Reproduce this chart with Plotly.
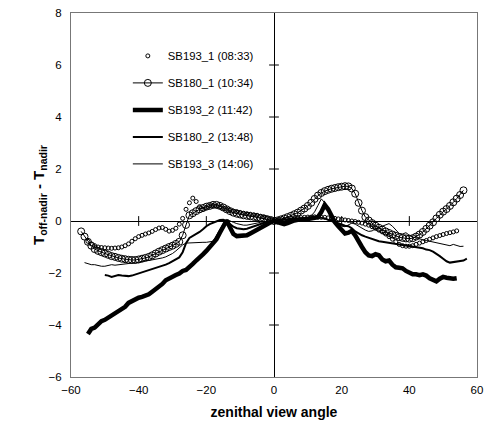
import plotly.graph_objects as go

ANGLES = [-57, -56, -55, -54, -53, -52, -51, -50, -49, -48, -47, -46, -45, -44, -43, -42, -41, -40,
          -39, -38, -37, -36, -35, -34, -33, -32, -31, -30, -29, -28, -27, -26, -25, -24, -23, -22,
          -21, -20, -19, -18, -17, -16, -15, -14, -13, -12, -11, -10, -9, -8, -7, -6, -5, -4, -3,
          -2, -1, 0, 1, 2, 3, 4, 5, 6, 7, 8, 9, 10, 11, 12, 13, 14, 15, 16, 17, 18, 19, 20, 21,
          22, 23, 24, 25, 26, 27, 28, 29, 30, 31, 32, 33, 34, 35, 36, 37, 38, 39, 40, 41, 42, 43,
          44, 45, 46, 47, 48, 49, 50, 51, 52, 53, 54, 55, 56, 57]

# SB193_1 (08:33): angles -55 .. 54
SB193_1_START = -55
SB193_1 = [-0.78, -0.88, -0.95, -1.00, -1.02, -1.03, -1.04, -1.05, -1.04, -1.03,
           -1.00, -0.95, -0.88, -0.78, -0.68, -0.60, -0.55, -0.50, -0.46, -0.40,
           -0.33, -0.27, -0.25, -0.32, -0.39, -0.36, -0.28, -0.12, 0.10, 0.45,
           0.70, 0.88, 0.75, 0.55, 0.45, 0.52, 0.58, 0.60, 0.58, 0.55,
           0.50, 0.45, 0.40, 0.38, 0.36, 0.33, 0.30, 0.28, 0.26, 0.24,
           0.22, 0.18, 0.15, 0.10, 0.06, 0.02, 0.03, 0.05, 0.06, 0.08,
           0.10, 0.12, 0.12, 0.13, 0.14, 0.15, 0.15, 0.16, 0.15, 0.14,
           0.14, 0.12, 0.12, 0.10, 0.08, 0.06, 0.04, 0.02, 0.00, -0.02,
           -0.05, -0.08, -0.12, -0.16, -0.22, -0.28, -0.35, -0.42, -0.50, -0.60,
           -0.70, -0.80, -0.90, -0.95, -0.97, -0.97, -0.95, -0.90, -0.85, -0.80,
           -0.75, -0.70, -0.65, -0.60, -0.56, -0.52, -0.48, -0.45, -0.42, -0.38]

# SB180_1 (10:34): angles -57 .. 56
SB180_1_START = -57
SB180_1 = [-0.40, -0.60, -0.80, -0.95, -1.08, -1.15, -1.20, -1.25, -1.30, -1.35,
           -1.38, -1.42, -1.45, -1.47, -1.49, -1.50, -1.50, -1.48, -1.45, -1.42,
           -1.38, -1.32, -1.25, -1.18, -1.12, -1.06, -1.00, -0.95, -0.88, -0.80,
           -0.55, -0.15, 0.22, 0.30, 0.38, 0.45, 0.50, 0.55, 0.58, 0.62,
           0.62, 0.58, 0.52, 0.45, 0.38, 0.32, 0.28, 0.25, 0.22, 0.20,
           0.18, 0.16, 0.14, 0.12, 0.10, 0.07, 0.04, 0.00, 0.02, 0.06,
           0.10, 0.15, 0.20, 0.26, 0.32, 0.40, 0.48, 0.58, 0.70, 0.85,
           0.98, 1.08, 1.15, 1.20, 1.24, 1.27, 1.30, 1.32, 1.34, 1.33,
           1.25, 1.05, 0.70, 0.40, 0.15, 0.02, -0.08, -0.18, -0.26, -0.33,
           -0.40, -0.46, -0.52, -0.57, -0.62, -0.65, -0.67, -0.68, -0.66, -0.60,
           -0.52, -0.42, -0.30, -0.18, -0.05, 0.10, 0.24, 0.36, 0.46, 0.58,
           0.72, 0.86, 1.00, 1.18]

# SB193_2 (11:42): angles -55 .. 54
SB193_2_START = -55
SB193_2 = [-4.35, -4.15, -4.10, -3.95, -3.85, -3.80, -3.72, -3.62, -3.58, -3.50,
           -3.42, -3.30, -3.15, -3.08, -3.00, -2.95, -2.92, -2.88, -2.82, -2.72,
           -2.62, -2.55, -2.42, -2.28, -2.20, -2.12, -2.08, -2.02, -1.92, -1.88,
           -1.78, -1.65, -1.52, -1.42, -1.28, -1.15, -1.02, -0.88, -0.70, -0.45,
           -0.22, 0.02, -0.25, -0.50, -0.58, -0.56, -0.57, -0.55, -0.48, -0.40,
           -0.35, -0.25, -0.18, -0.10, -0.05, 0.00, -0.05, -0.10, -0.12, -0.08,
           -0.02, 0.02, 0.05, 0.04, 0.06, 0.08, 0.10, 0.10, 0.15, 0.35,
           0.62, 0.45, 0.15, -0.05, -0.20, -0.35, -0.48, -0.45, -0.38, -0.55,
           -0.80, -1.00, -1.20, -1.32, -1.35, -1.28, -1.32, -1.48, -1.55, -1.52,
           -1.68, -1.78, -1.80, -1.82, -1.92, -2.00, -2.05, -2.05, -2.08, -2.05,
           -2.10, -2.20, -2.28, -2.32, -2.22, -2.15, -2.18, -2.22, -2.22, -2.20]

# SB180_2 (13:48): angles -50 .. 57
SB180_2_START = -50
SB180_2 = [-2.08, -2.10, -2.15, -2.12, -2.08, -2.10, -2.12, -2.12, -2.10, -2.06,
           -2.02, -1.98, -1.92, -1.88, -1.85, -1.80, -1.78, -1.72, -1.68, -1.62,
           -1.55, -1.48, -1.40, -1.20, -0.85, -0.65, -0.58, -0.50, -0.42, -0.32,
           -0.20, -0.12, -0.06, 0.00, 0.04, 0.05, 0.00, -0.12, -0.22, -0.28,
           -0.30, -0.32, -0.30, -0.25, -0.20, -0.15, -0.10, -0.06, -0.03, -0.01,
           0.00, 0.02, 0.04, 0.06, 0.05, 0.07, 0.08, 0.10, 0.10, 0.12,
           0.12, 0.13, 0.13, 0.14, 0.12, 0.10, 0.05, 0.00, -0.05, -0.10,
           -0.15, -0.18, -0.20, -0.28, -0.40, -0.48, -0.55, -0.60, -0.65, -0.70,
           -0.75, -0.78, -0.80, -0.82, -0.85, -0.88, -0.90, -0.92, -0.93, -0.95,
           -0.97, -0.98, -1.00, -1.02, -1.05, -1.10, -1.12, -1.18, -1.25, -1.35,
           -1.45, -1.55, -1.60, -1.58, -1.55, -1.55, -1.52, -1.45]

# SB193_3 (14:06): angles -56 .. 56
SB193_3_START = -56
SB193_3 = [-1.60, -1.65, -1.68, -1.68, -1.72, -1.74, -1.74, -1.70, -1.68, -1.70,
           -1.68, -1.68, -1.66, -1.64, -1.62, -1.61, -1.60, -1.56, -1.52, -1.52,
           -1.50, -1.48, -1.46, -1.42, -1.38, -1.32, -1.25, -1.15, -1.02, -0.92,
           -0.85, -0.84, -0.84, -0.83, -0.83, -0.82, -0.82, -0.80, -0.78, -0.55,
           -0.30, -0.10, 0.06, 0.02, -0.05, -0.10, -0.14, -0.16, -0.16, -0.14,
           -0.10, -0.08, -0.05, -0.03, -0.02, 0.00, 0.00, 0.03, 0.05, 0.06,
           0.08, 0.09, 0.10, 0.11, 0.12, 0.13, 0.15, 0.20, 0.35, 0.60,
           0.85, 0.70, 0.45, 0.20, 0.00, -0.12, -0.20, -0.22, -0.15, -0.08,
           -0.12, -0.20, -0.28, -0.35, -0.40, -0.38, -0.30, -0.25, -0.20, -0.12,
           -0.10, -0.20, -0.35, -0.48, -0.50, -0.45, -0.55, -0.62, -0.65, -0.70,
           -0.72, -0.75, -0.78, -0.80, -0.82, -0.85, -0.88, -0.92, -0.95, -0.90,
           -0.95, -0.98, -0.97]

LABELS = ["SB193_1 (08:33)", "SB180_1 (10:34)", "SB193_2 (11:42)",
          "SB180_2 (13:48)", "SB193_3 (14:06)"]

X_TICKS = [-60, -40, -20, 0, 20, 40, 60]
Y_TICKS = [-6, -4, -2, 0, 2, 4, 6, 8]


def angles_for(start, vals):
    i0 = ANGLES.index(start)
    return ANGLES[i0:i0 + len(vals)]


FONT = "Liberation Sans, Arial, sans-serif"
fig = go.Figure()

fig.add_trace(go.Scatter(
    x=angles_for(SB193_1_START, SB193_1), y=SB193_1, name=LABELS[0], mode="markers",
    marker=dict(symbol="circle-open", size=4, color="black", line=dict(width=1, color="black")),
    legendgroup="a"))
fig.add_trace(go.Scatter(
    x=angles_for(SB180_1_START, SB180_1), y=SB180_1, name=LABELS[1], mode="lines+markers",
    line=dict(color="black", width=1),
    marker=dict(symbol="circle-open", size=7, color="black", line=dict(width=1, color="black")),
    legendgroup="b"))
fig.add_trace(go.Scatter(
    x=angles_for(SB193_2_START, SB193_2), y=SB193_2, name=LABELS[2], mode="lines",
    line=dict(color="black", width=4.5), legendgroup="c"))
fig.add_trace(go.Scatter(
    x=angles_for(SB180_2_START, SB180_2), y=SB180_2, name=LABELS[3], mode="lines",
    line=dict(color="black", width=2), legendgroup="d"))
fig.add_trace(go.Scatter(
    x=angles_for(SB193_3_START, SB193_3), y=SB193_3, name=LABELS[4], mode="lines",
    line=dict(color="black", width=1), legendgroup="e"))

# crossing tick marks on the zero axes
xt = [v for v in X_TICKS if v not in (0, X_TICKS[0], X_TICKS[-1])]
yt = [v for v in Y_TICKS if v not in (0, Y_TICKS[0], Y_TICKS[-1])]
fig.add_trace(go.Scatter(x=xt, y=[0] * len(xt), mode="markers", showlegend=False, hoverinfo="skip",
                         marker=dict(symbol="line-ns", size=7, line=dict(width=1, color="black"))))
fig.add_trace(go.Scatter(x=[0] * len(yt), y=yt, mode="markers", showlegend=False, hoverinfo="skip",
                         marker=dict(symbol="line-ew", size=7, line=dict(width=1, color="black"))))

fig.update_layout(
    width=491, height=423,
    margin=dict(l=71, r=14, t=13, b=46),
    paper_bgcolor="white", plot_bgcolor="white",
    font=dict(family=FONT, size=11, color="black"),
    showlegend=True,
    legend=dict(x=0.14, y=0.922, xanchor="left", yanchor="top", bgcolor="rgba(0,0,0,0)",
                font=dict(size=11.3), traceorder="grouped", tracegroupgap=8, itemwidth=30),
    xaxis=dict(range=[-60, 60], tickvals=X_TICKS, showgrid=False, zeroline=True,
               zerolinecolor="black", zerolinewidth=1, showline=True, mirror=True,
               linecolor="#777777", linewidth=1, ticks="", ticklabelstandoff=2,
               tickfont=dict(size=11.5), automargin=False,
               title=dict(text="<b>zenithal view angle</b>", font=dict(size=14), standoff=12)),
    yaxis=dict(range=[-6, 8], tickvals=Y_TICKS, showgrid=False, zeroline=True,
               zerolinecolor="black", zerolinewidth=1, showline=True, mirror=True,
               linecolor="#777777", linewidth=1, ticks="", ticklabelstandoff=6,
               tickfont=dict(size=11.5), automargin=False,
               title=dict(text="<b>T<sub>off-nadir</sub> - T<sub>nadir</sub></b>",
                          font=dict(size=15), standoff=0)),
)

fig.write_html("out.html")
